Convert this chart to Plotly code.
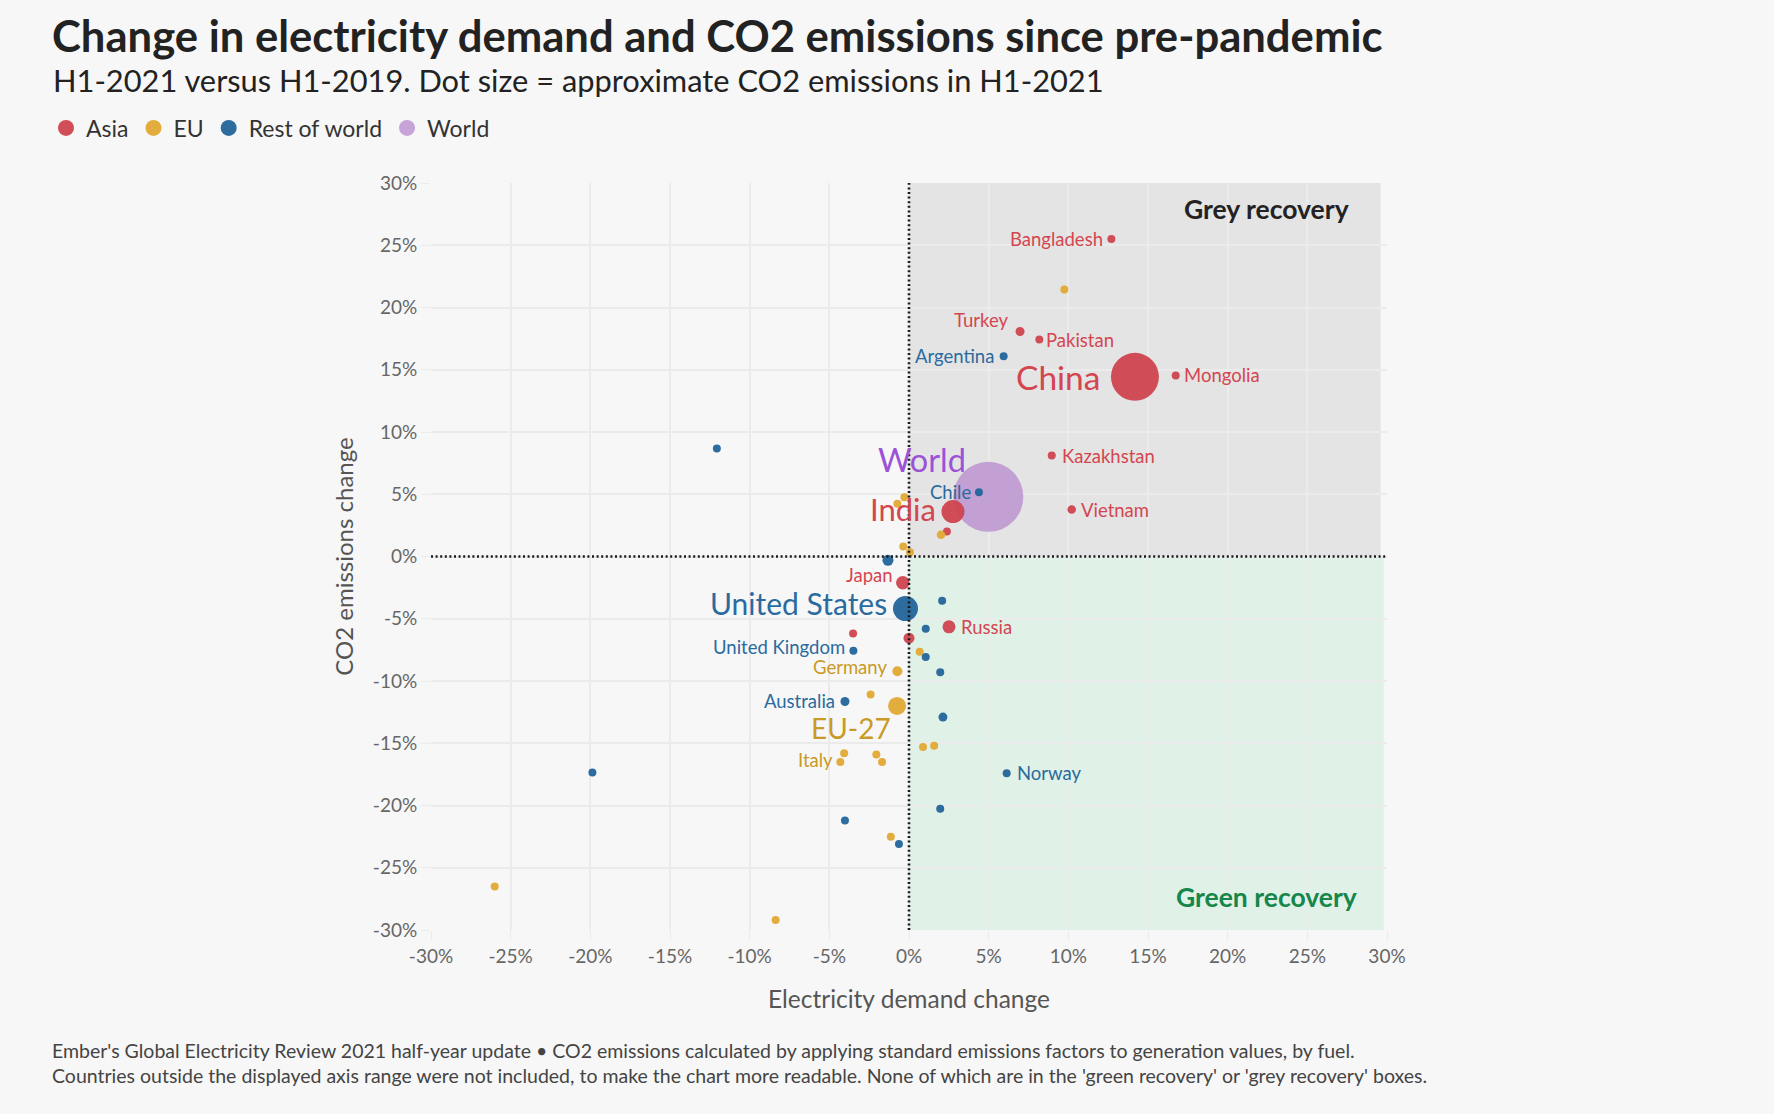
import plotly.graph_objects as go

# ---------------- data (percent change H1-2021 vs H1-2019) ----------------
asia_names = ["Bangladesh", "Turkey", "Pakistan", "China", "Mongolia", "Kazakhstan",
              "Vietnam", "India", "", "Japan", "Russia", "", ""]
asia_demand = [12.7, 6.97, 8.18, 14.18, 16.74, 8.96, 10.21, 2.76, 2.38, -0.39, 2.51, -3.51, 0.0]
asia_co2 = [25.5, 18.07, 17.43, 14.43, 14.54, 8.11, 3.77, 3.61, 2.0, -2.1, -5.65, -6.19, -6.56]
asia_emis = [30, 96, 30, 2727, 30, 76, 86, 626, 30, 216, 200, 76, 143]

eu_names = ["", "", "", "", "", "", "", "Germany", "", "EU-27", "", "", "", "",
            "Italy", "", "", "", ""]
eu_demand = [9.75, -0.29, -0.73, 2.01, -0.36, 0.06, 0.67, -0.73, -2.41, -0.75, 0.88, 1.58,
             -4.07, -2.05, -4.31, -1.69, -1.14, -26.0, -8.37]
eu_co2 = [21.45, 4.76, 4.23, 1.74, 0.8, 0.35, -7.66, -9.21, -11.08, -12.0, -15.3, -15.2,
          -15.8, -15.9, -16.5, -16.5, -22.5, -26.5, -29.2]
eu_emis = [30, 30, 30, 86, 30, 30, 30, 118, 30, 384, 30, 43, 36, 36, 50, 36, 30, 30, 30]

row_names = ["Argentina", "Chile", "", "", "United States", "", "", "United Kingdom", "",
             "", "Australia", "", "Norway", "", "", "", ""]
row_demand = [5.94, 4.39, -12.06, -1.32, -0.22, 2.08, 1.05, -3.49, 1.05, 1.96, -4.02, 2.13,
              6.13, -19.87, 1.96, -4.02, -0.63]
row_co2 = [16.09, 5.16, 8.67, -0.3, -4.18, -3.56, -5.8, -7.58, -8.08, -9.29, -11.65, -12.9,
           -17.4, -17.35, -20.27, -21.2, -23.1]
row_emis = [30, 30, 30, 143, 740, 30, 30, 36, 30, 30, 96, 96, 30, 30, 36, 50, 30]

world_names = ["World"]
world_demand = [4.98]
world_co2 = [4.79]
world_emis = [5800]

axis_ticks = [-30, -25, -20, -15, -10, -5, 0, 5, 10, 15, 20, 25, 30]
tick_labels = [f"{t}%" for t in axis_ticks]

# ---------------- styling ----------------
W, H = 1774, 1114
L, R, T, B = 431, 387, 183, 184
FONT = "Lato"
BG = "#f7f7f7"
C_ASIA, C_EU, C_ROW, C_WORLD = "#cf4450", "#e2a934", "#22649a", "#b98fd0"
T_ASIA, T_EU, T_ROW, T_WORLD = "#d4464f", "#c99a26", "#2a6b9f", "#9b52d6"
MAXD = 70
sizeref = 2.0 * max(world_emis) / (MAXD ** 2)

pw, ph = W - L - R, H - T - B


def px_x(p):
    return (p - L) / pw


def px_y(p):
    return (H - B - p) / ph


fig = go.Figure()

groups = [
    ("World", world_names, world_demand, world_co2, world_emis, C_WORLD, 0.8, 4),
    ("Asia", asia_names, asia_demand, asia_co2, asia_emis, C_ASIA, 0.95, 1),
    ("EU", eu_names, eu_demand, eu_co2, eu_emis, C_EU, 0.95, 2),
    ("Rest of world", row_names, row_demand, row_co2, row_emis, C_ROW, 0.95, 3),
]
for gname, names, xs, ys, em, col, op, rank in groups:
    fig.add_trace(go.Scatter(
        x=xs, y=ys, mode="markers", name=gname, text=names,
        legendrank=rank,
        marker=dict(size=em, sizemode="area", sizeref=sizeref, sizemin=4,
                    color=col, opacity=op, line=dict(width=0)),
        hovertemplate="%{text}<br>Demand %{x}%<br>CO2 %{y}%<extra>" + gname + "</extra>",
    ))

# ---------------- labels ----------------
small = 18.5
# name -> (xanchor, xshift, yshift, size, color)
label_style = {
    "Bangladesh": ("right", -6, 0, small, T_ASIA),
    "Turkey": ("right", -10, 12, small, T_ASIA),
    "Pakistan": ("left", 5, 0, small, T_ASIA),
    "China": ("right", -33, 0, 33.5, T_ASIA),
    "Mongolia": ("left", 6, 0, small, T_ASIA),
    "Kazakhstan": ("left", 8, 0, small, T_ASIA),
    "Vietnam": ("left", 7, 0, small, T_ASIA),
    "India": ("right", -15, 3, 31, T_ASIA),
    "Japan": ("right", -8, 8, small, T_ASIA),
    "Russia": ("left", 10, 0, small, T_ASIA),
    "Germany": ("right", -8, 4, small, T_EU),
    "EU-27": ("right", -4, -22, 28, T_EU),
    "Italy": ("right", -5, 2, small, T_EU),
    "Argentina": ("right", -8, 0, small, T_ROW),
    "Chile": ("right", -6, 0, small, T_ROW),
    "United States": ("right", -16, 6, 30, T_ROW),
    "United Kingdom": ("right", -6, 4, small, T_ROW),
    "Australia": ("right", -8, 1, small, T_ROW),
    "Norway": ("left", 8, 0, small, T_ROW),
    "World": ("center", -66, 37, 32.5, T_WORLD),
}
for _, names, xs, ys, _em, _c, _o, _r in groups:
    for n, x, y in zip(names, xs, ys):
        if n in label_style:
            xa, xs_, ys_, sz, col = label_style[n]
            fig.add_annotation(x=x, y=y, text=n, showarrow=False, xanchor=xa, yanchor="middle",
                               xshift=xs_, yshift=ys_, font=dict(family=FONT, size=sz, color=col))

# quadrant texts
fig.add_annotation(x=px_x(1266), y=px_y(209), xref="paper", yref="paper", text="<b>Grey recovery</b>",
                   xanchor="center", yanchor="middle",
                   showarrow=False, font=dict(family=FONT, size=26.5, color="#222222"))
fig.add_annotation(x=px_x(1266), y=px_y(897), xref="paper", yref="paper", text="<b>Green recovery</b>",
                   xanchor="center", yanchor="middle",
                   showarrow=False, font=dict(family=FONT, size=26.5, color="#16864a"))

# title / subtitle / footnote
fig.add_annotation(x=px_x(50), y=px_y(35), xref="paper", yref="paper", xanchor="left", yanchor="middle",
                   text="<b>Change in electricity demand and CO2 emissions since pre-pandemic</b>",
                   showarrow=False, font=dict(family=FONT, size=43.6, color="#222222"))
fig.add_annotation(x=px_x(51), y=px_y(80), xref="paper", yref="paper", xanchor="left", yanchor="middle",
                   text="H1-2021 versus H1-2019. Dot size = approximate CO2 emissions in H1-2021",
                   showarrow=False, font=dict(family=FONT, size=30.8, color="#222222"))
fig.add_annotation(x=px_x(50), y=px_y(1063), xref="paper", yref="paper", xanchor="left", yanchor="middle",
                   align="left",
                   text=("Ember's Global Electricity Review 2021 half-year update \u2022 CO2 emissions calculated by "
                         "applying standard emissions factors to generation values, by fuel.<br>"
                         "Countries outside the displayed axis range were not included, to make the chart more "
                         "readable. None of which are in the 'green recovery' or 'grey recovery' boxes."),
                   showarrow=False, font=dict(family=FONT, size=19.5, color="#444444"))

# quadrant boxes and zero lines
fig.add_shape(type="rect", x0=0, x1=29.6, y0=0, y1=30, fillcolor="#e4e4e4", line_width=0, layer="below")
fig.add_shape(type="rect", x0=0, x1=29.8, y0=-30, y1=0, fillcolor="#e0f2e7", line_width=0, layer="below")
fig.add_shape(type="line", x0=0, x1=0, y0=-30, y1=30, line=dict(color="#1a1a1a", width=2.6, dash="2px,2.6px"),
              layer="above")
fig.add_shape(type="line", x0=-30, x1=30, y0=0, y1=0, line=dict(color="#1a1a1a", width=2.6, dash="2px,2.6px"),
              layer="above")

axis_common = dict(
    range=[-30, 30], tickvals=axis_ticks, ticktext=tick_labels, showgrid=True, gridcolor="#ebebeb",
    gridwidth=1.5, zeroline=False, showline=False, ticks="outside", ticklen=9, tickcolor="#ebebeb",
    tickfont=dict(family=FONT, size=19, color="#666666"), fixedrange=True,
)
fig.update_xaxes(**axis_common, title=dict(text="Electricity demand change", standoff=25,
                                           font=dict(family=FONT, size=24.5, color="#555555")))
fig.update_yaxes(**axis_common, title=dict(text="CO2 emissions change", standoff=12,
                                           font=dict(family=FONT, size=24, color="#555555")))

fig.update_layout(
    width=W, height=H, paper_bgcolor=BG, plot_bgcolor=BG,
    margin=dict(l=L, r=R, t=T, b=B, autoexpand=False),
    font=dict(family=FONT),
    showlegend=True,
    legend=dict(orientation="h", x=px_x(46), y=px_y(128), xanchor="left", yanchor="middle",
                xref="paper", yref="paper", font=dict(family=FONT, size=23, color="#333333"),
                itemsizing="trace", traceorder="normal", bgcolor="rgba(0,0,0,0)",
                itemwidth=30, tracegroupgap=0),
    hovermode="closest",
)

fig.write_html(
    "out.html",
    config={"displayModeBar": False},
    post_script="document.body.style.margin='0';document.body.style.background='#f7f7f7';",
)
